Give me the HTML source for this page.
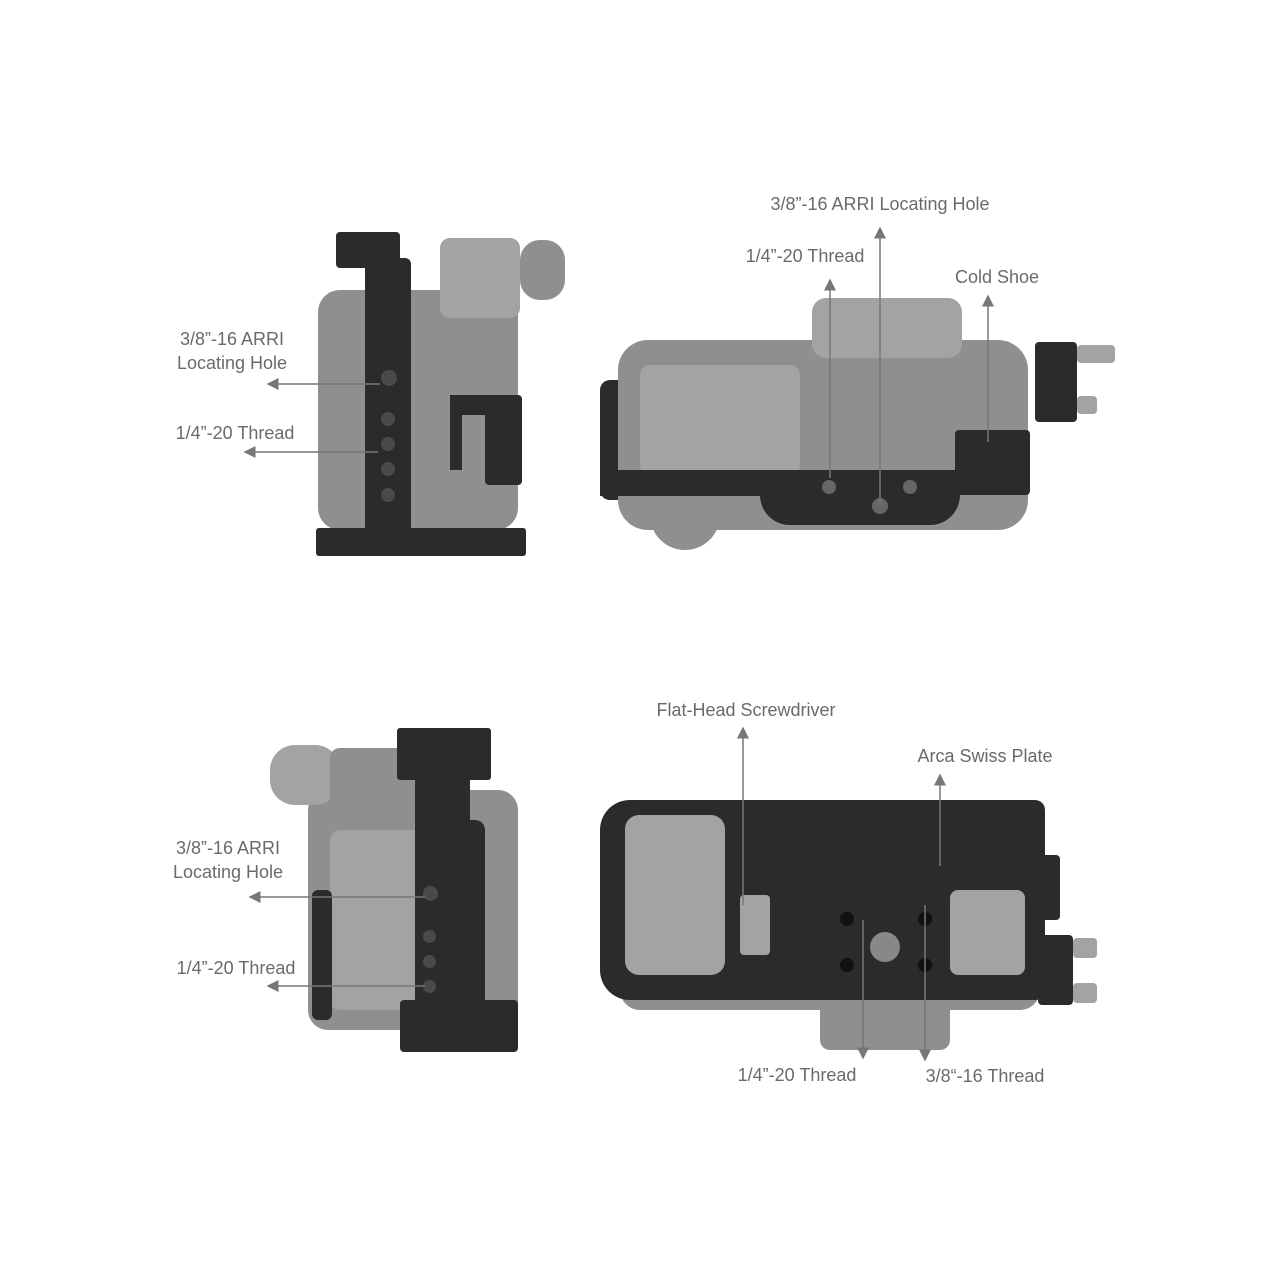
<!DOCTYPE html>
<html><head><meta charset="utf-8"><style>
html,body{margin:0;padding:0;background:#fff;}
#c{position:relative;width:1280px;height:1280px;overflow:hidden;font-family:"Liberation Sans",sans-serif;}
.b{position:absolute;}
.g{background:#8f8f8f;}
.lg{background:#a3a3a3;}
.k{background:#2b2b2c;}
.d{background:#4a4a4a;border-radius:50%;}
.t{position:absolute;color:#6a6a6a;font-size:18px;text-align:center;white-space:nowrap;line-height:24px;}
</style></head><body><div id="c">

<!-- Top-left view -->
<div class="b g" style="left:318px;top:290px;width:200px;height:240px;border-radius:22px;"></div>
<div class="b lg" style="left:440px;top:238px;width:80px;height:80px;border-radius:10px;"></div>
<div class="b g" style="left:520px;top:240px;width:45px;height:60px;border-radius:20px;"></div>
<div class="b k" style="left:365px;top:258px;width:46px;height:290px;border-radius:6px;"></div>
<div class="b k" style="left:336px;top:232px;width:64px;height:36px;border-radius:4px;"></div>
<div class="b k" style="left:316px;top:528px;width:210px;height:28px;border-radius:3px;"></div>
<div class="b k" style="left:450px;top:395px;width:72px;height:20px;border-radius:4px;"></div>
<div class="b k" style="left:485px;top:405px;width:37px;height:80px;border-radius:4px;"></div>
<div class="b k" style="left:450px;top:395px;width:12px;height:75px;"></div>
<div class="b d" style="left:381px;top:370px;width:16px;height:16px;"></div>
<div class="b d" style="left:381px;top:412px;width:14px;height:14px;"></div>
<div class="b d" style="left:381px;top:437px;width:14px;height:14px;"></div>
<div class="b d" style="left:381px;top:462px;width:14px;height:14px;"></div>
<div class="b d" style="left:381px;top:488px;width:14px;height:14px;"></div>

<!-- Top-right view -->
<div class="b g" style="left:618px;top:340px;width:410px;height:190px;border-radius:30px;"></div>
<div class="b lg" style="left:812px;top:298px;width:150px;height:60px;border-radius:14px;"></div>
<div class="b lg" style="left:640px;top:365px;width:160px;height:110px;border-radius:10px;"></div>
<div class="b g" style="left:650px;top:480px;width:70px;height:70px;border-radius:50%;"></div>
<div class="b k" style="left:600px;top:470px;width:360px;height:26px;"></div>
<div class="b k" style="left:760px;top:470px;width:200px;height:55px;border-radius:0 0 30px 30px;"></div>
<div class="b k" style="left:955px;top:430px;width:75px;height:65px;border-radius:4px;"></div>
<div class="b k" style="left:600px;top:380px;width:18px;height:120px;border-radius:10px 0 0 10px;"></div>
<div class="b k" style="left:1035px;top:342px;width:42px;height:80px;border-radius:4px;"></div>
<div class="b lg" style="left:1077px;top:345px;width:38px;height:18px;border-radius:4px;"></div>
<div class="b lg" style="left:1077px;top:396px;width:20px;height:18px;border-radius:4px;"></div>
<div class="b d" style="left:822px;top:480px;width:14px;height:14px;background:#666"></div>
<div class="b d" style="left:872px;top:498px;width:16px;height:16px;background:#666"></div>
<div class="b d" style="left:903px;top:480px;width:14px;height:14px;background:#666"></div>

<!-- Bottom-left view -->
<div class="b g" style="left:308px;top:790px;width:210px;height:240px;border-radius:20px;"></div>
<div class="b lg" style="left:270px;top:745px;width:70px;height:60px;border-radius:25px;"></div>
<div class="b g" style="left:330px;top:748px;width:120px;height:60px;border-radius:10px;"></div>
<div class="b lg" style="left:330px;top:830px;width:120px;height:180px;border-radius:10px;"></div>
<div class="b k" style="left:397px;top:728px;width:94px;height:52px;border-radius:3px;"></div>
<div class="b k" style="left:415px;top:780px;width:55px;height:60px;"></div>
<div class="b k" style="left:415px;top:820px;width:70px;height:230px;border-radius:10px;"></div>
<div class="b k" style="left:400px;top:1000px;width:118px;height:52px;border-radius:4px;"></div>
<div class="b k" style="left:312px;top:890px;width:20px;height:130px;border-radius:6px;"></div>
<div class="b d" style="left:423px;top:886px;width:15px;height:15px;"></div>
<div class="b d" style="left:423px;top:930px;width:13px;height:13px;"></div>
<div class="b d" style="left:423px;top:955px;width:13px;height:13px;"></div>
<div class="b d" style="left:423px;top:980px;width:13px;height:13px;"></div>

<!-- Bottom-right view -->
<div class="b g" style="left:620px;top:950px;width:420px;height:60px;border-radius:20px;"></div>
<div class="b g" style="left:820px;top:990px;width:130px;height:60px;border-radius:10px;"></div>
<div class="b k" style="left:790px;top:828px;width:155px;height:30px;border-radius:4px;"></div>
<div class="b k" style="left:600px;top:800px;width:445px;height:200px;border-radius:30px 10px 10px 30px;"></div>
<div class="b lg" style="left:625px;top:815px;width:100px;height:160px;border-radius:14px;"></div>
<div class="b lg" style="left:950px;top:890px;width:75px;height:85px;border-radius:8px;"></div>
<div class="b lg" style="left:740px;top:895px;width:30px;height:60px;border-radius:4px;"></div>
<div class="b k" style="left:1035px;top:855px;width:25px;height:65px;border-radius:4px;"></div>
<div class="b k" style="left:1038px;top:935px;width:35px;height:70px;border-radius:4px;"></div>
<div class="b lg" style="left:1073px;top:938px;width:24px;height:20px;border-radius:4px;"></div>
<div class="b lg" style="left:1073px;top:983px;width:24px;height:20px;border-radius:4px;"></div>
<div class="b d" style="left:870px;top:932px;width:30px;height:30px;background:#888"></div>
<div class="b d" style="left:840px;top:912px;width:14px;height:14px;background:#111"></div>
<div class="b d" style="left:918px;top:912px;width:14px;height:14px;background:#111"></div>
<div class="b d" style="left:840px;top:958px;width:14px;height:14px;background:#111"></div>
<div class="b d" style="left:918px;top:958px;width:14px;height:14px;background:#111"></div>

<svg class="b" style="left:0;top:0" width="1280" height="1280">
<defs><marker id="a" markerWidth="8" markerHeight="8" refX="7" refY="4" orient="auto"><path d="M0,0 L8,4 L0,8 z" fill="#777"/></marker></defs>
<g stroke="#777" stroke-width="1.5" fill="none" marker-end="url(#a)">
<line x1="380" y1="384" x2="268" y2="384"/>
<line x1="378" y1="452" x2="245" y2="452"/>
<line x1="880" y1="505" x2="880" y2="228"/>
<line x1="830" y1="478" x2="830" y2="280"/>
<line x1="988" y1="442" x2="988" y2="296"/>
<line x1="425" y1="897" x2="250" y2="897"/>
<line x1="425" y1="986" x2="268" y2="986"/>
<line x1="743" y1="905" x2="743" y2="728"/>
<line x1="940" y1="866" x2="940" y2="775"/>
<line x1="863" y1="920" x2="863" y2="1058"/>
<line x1="925" y1="905" x2="925" y2="1060"/>
</g></svg>

<div class="t" style="left:132px;top:327px;width:200px;">3/8”-16 ARRI<br>Locating Hole</div>
<div class="t" style="left:135px;top:421px;width:200px;">1/4”-20 Thread</div>
<div class="t" style="left:730px;top:192px;width:300px;">3/8”-16 ARRI Locating Hole</div>
<div class="t" style="left:705px;top:244px;width:200px;">1/4”-20 Thread</div>
<div class="t" style="left:897px;top:265px;width:200px;">Cold Shoe</div>
<div class="t" style="left:128px;top:836px;width:200px;">3/8”-16 ARRI<br>Locating Hole</div>
<div class="t" style="left:136px;top:956px;width:200px;">1/4”-20 Thread</div>
<div class="t" style="left:596px;top:698px;width:300px;">Flat-Head Screwdriver</div>
<div class="t" style="left:885px;top:744px;width:200px;">Arca Swiss Plate</div>
<div class="t" style="left:697px;top:1063px;width:200px;">1/4”-20 Thread</div>
<div class="t" style="left:885px;top:1064px;width:200px;">3/8“-16 Thread</div>
</div></body></html>
